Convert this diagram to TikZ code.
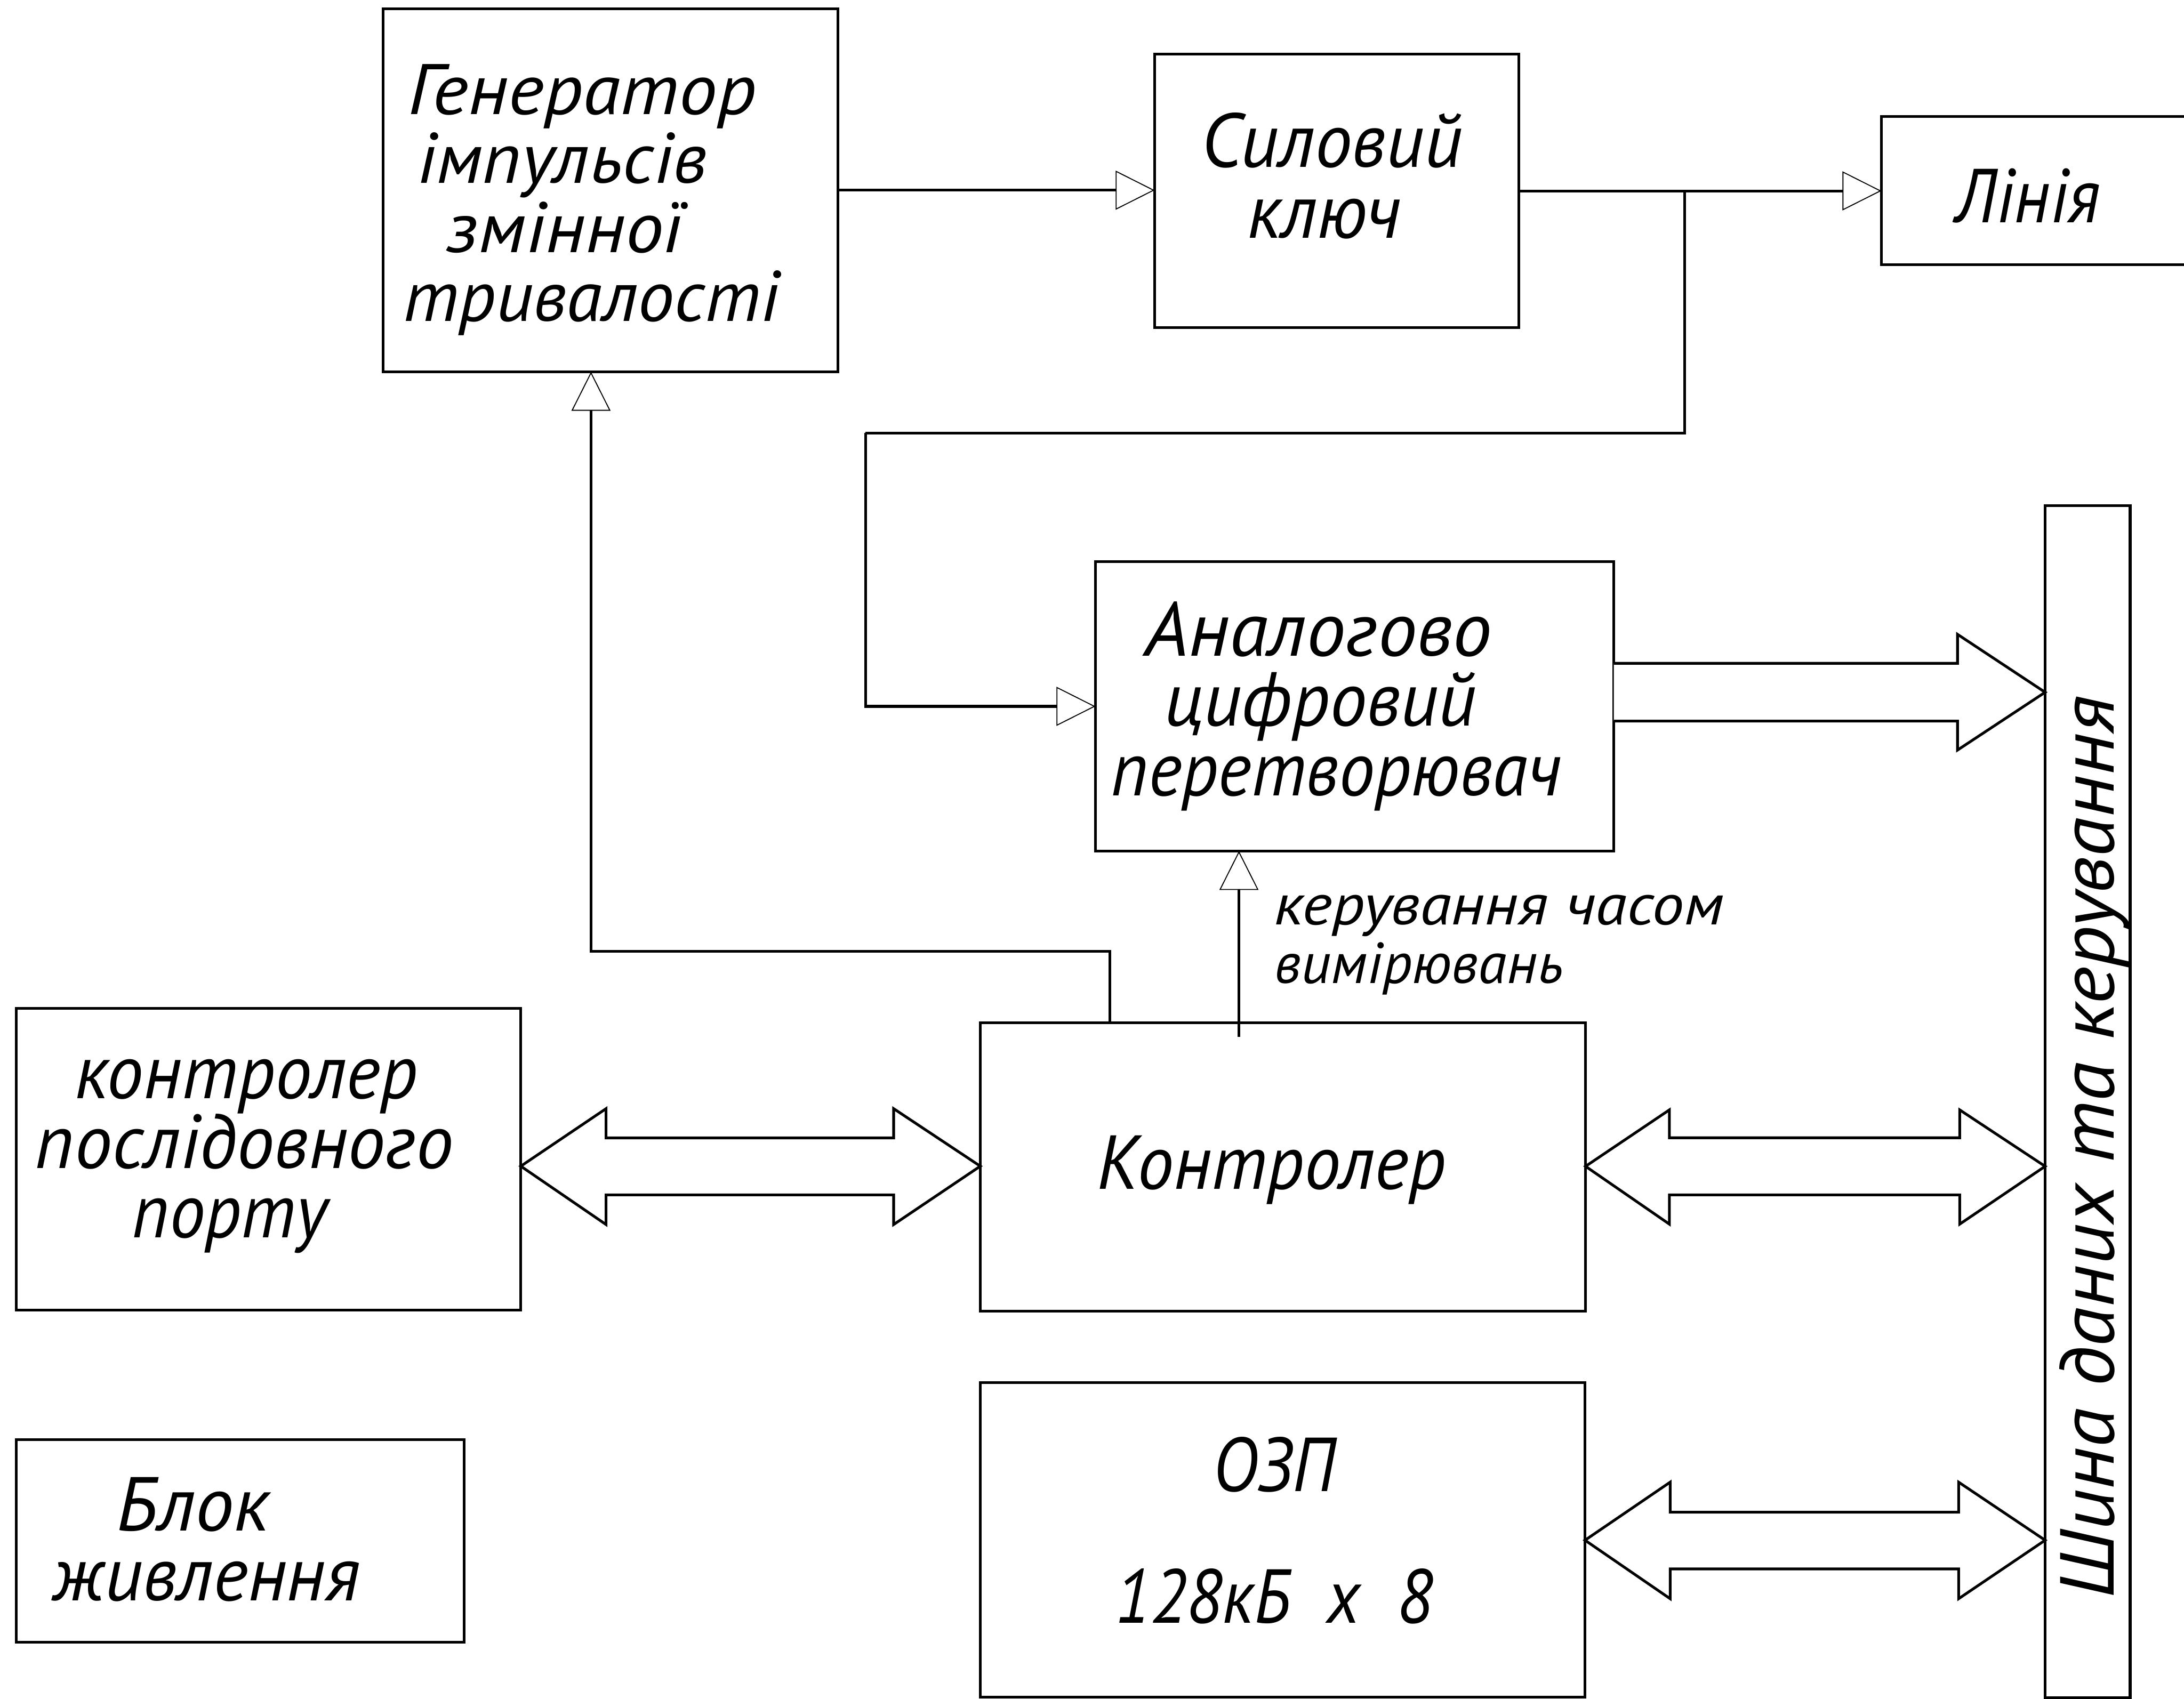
\documentclass[tikz,border=0pt]{standalone}
\usepackage{fontspec}
\usepackage{graphicx}
\usetikzlibrary{arrows.meta}
\newfontfamily\gostfont{PT Sans}
% stretch one line of text to a given width (cm), keeping its height
\newcommand\fitline[2]{\resizebox{#1cm}{\height}{#2}}
\tikzset{
  blk/.style={draw, line width=0.55pt, inner sep=0pt, outer sep=0pt, anchor=north west},
  txt/.style={inner sep=0pt, anchor=base west, font=\gostfont\itshape\fontsize{15.6}{18}\selectfont},
  gentxt/.style={txt, font=\gostfont\itshape\fontsize{14.6}{17}\selectfont},
  smalltxt/.style={inner sep=0pt, anchor=base west, font=\gostfont\itshape\fontsize{11.8}{14}\selectfont},
  sig/.style={line width=0.55pt, -{Triangle[fill=white, length=0.28cm, width=0.28cm, line width=0.2pt]}},
  busarrow/.style={draw, fill=white, line width=0.55pt, line join=miter}
}
\begin{document}
\begin{tikzpicture}[x=0.01cm, y=-0.01cm]
\useasboundingbox (0,0) rectangle (1568,1220);
\clip (0,0) rectangle (1568,1220);

% blocks
\node[blk, minimum width=3.263cm, minimum height=2.606cm] (gen) at (275,6.2) {};
\node[blk, minimum width=2.614cm, minimum height=1.96cm] (key) at (829,39) {};
\node[blk, minimum width=2.6cm, minimum height=1.062cm] (line) at (1350.8,83.7) {};
\node[blk, minimum width=3.719cm, minimum height=2.075cm] (adc) at (786.5,403.4) {};
\node[blk, minimum width=0.61cm, minimum height=8.556cm] (bus) at (1468.3,363.1) {};
\node[blk, minimum width=4.343cm, minimum height=2.07cm] (ctrl) at (703.8,734.4) {};
\node[blk, minimum width=3.62cm, minimum height=2.168cm] (serial) at (11.7,723.9) {};
\node[blk, minimum width=3.212cm, minimum height=1.457cm] (power) at (11.7,1033.6) {};
\node[blk, minimum width=4.338cm, minimum height=2.259cm] (ram) at (703.9,992.8) {};

% block texts
\node[gentxt] (gen1) at (292.3,82.2) {\fitline{2.50}{Генератор}};
\node[gentxt] (gen2) at (298.9,131.6) {\fitline{2.08}{імпульсів}};
\node[gentxt] (gen3) at (319.9,181.1) {\fitline{1.70}{змінної}};
\node[gentxt] (gen4) at (288.9,230.6) {\fitline{2.70}{тривалості}};

\node[txt] (key1) at (862,120.1) {\fitline{1.87}{Силовий}};
\node[txt] (key2) at (895,170.9) {\fitline{1.10}{ключ}};

\node[txt] (line1) at (1403.1,159.9) {\fitline{1.04}{Лінія}};

\node[txt] (adc1) at (821.3,470.9) {\fitline{2.49}{Аналогово}};
\node[txt] (adc2) at (835.2,521.1) {\fitline{2.24}{цифровий}};
\node[txt] (adc3) at (797.1,571.4) {\fitline{3.23}{перетворювач}};

\node[txt] (ctrl1) at (787.1,853.8) {\fitline{2.50}{Контролер}};

\node[txt] (ser1) at (53,788.6) {\fitline{2.46}{контролер}};
\node[txt] (ser2) at (24.8,838.8) {\fitline{3.00}{послідовного}};
\node[txt] (ser3) at (94.3,888.8) {\fitline{1.40}{порту}};

\node[txt] (pow1) at (83.1,1099.2) {\fitline{1.10}{Блок}};
\node[txt] (pow2) at (36.9,1149.5) {\fitline{2.21}{живлення}};

\node[txt] (ram1) at (870.3,1070.8) {\fitline{0.88}{ОЗП}};
\node[txt] (ram2) at (799.9,1165.3) {\fitline{2.28}{128кБ\ \ х\ \ 8}};

\node[txt, rotate=90] (bus1) at (1517.8,1148.6) {\fitline{6.48}{Шина даних та керування}};

\node[smalltxt] (lab1) at (914,663.9) {\fitline{3.23}{керування часом}};
\node[smalltxt] (lab2) at (914.6,706) {\fitline{2.07}{вимірювань}};

% signal lines
\draw[sig] (gen.east) -- (gen.east -| key.west);
\draw[sig] (key.east) -- (key.east -| line.west);
\coordinate (br) at (1209.5,137);
\coordinate (bl) at (621.4,311);
\draw[line width=0.55pt] (br) |- (bl);
\draw[sig] (bl) |- (adc.west);
\coordinate (cg) at (796.7,683);
\coordinate (gin) at (424.3,683);
\draw[sig] (ctrl.north -| cg) -- (cg) -- (gin) -- (gin |- gen.south);
\coordinate (ca) at (889.5,744.7);
\draw[sig] (ca) -- (ca |- adc.south);

% data bus arrows
\draw[busarrow] (adc.east |- 0,476.3) -- (1405.4,476.3) -- (1405.4,455.5) -- (bus.west |- 0,497.1)
  -- (1405.4,538.6) -- (1405.4,517.8) -- (adc.east |- 0,517.8);
\draw[busarrow] (serial.east |- 0,837.4) -- (435.1,796.1) -- (435.1,817.1) -- (641.6,817.1) -- (641.6,796.1)
  -- (ctrl.west |- 0,837.4) -- (641.6,879.3) -- (641.6,858) -- (435.1,858) -- (435.1,879.3) -- cycle;
\draw[busarrow] (ctrl.east |- 0,837.5) -- (1198.5,797) -- (1198.5,817) -- (1407,817) -- (1407,797)
  -- (bus.west |- 0,837.5) -- (1407,879) -- (1407,858) -- (1198.5,858) -- (1198.5,879) -- cycle;
\draw[busarrow] (ram.east |- 0,1106) -- (1199.1,1064.3) -- (1199.1,1085.9) -- (1406.2,1085.9) -- (1406.2,1064.3)
  -- (bus.west |- 0,1106) -- (1406.2,1148) -- (1406.2,1126.6) -- (1199.1,1126.6) -- (1199.1,1148) -- cycle;
\end{tikzpicture}
\end{document}
